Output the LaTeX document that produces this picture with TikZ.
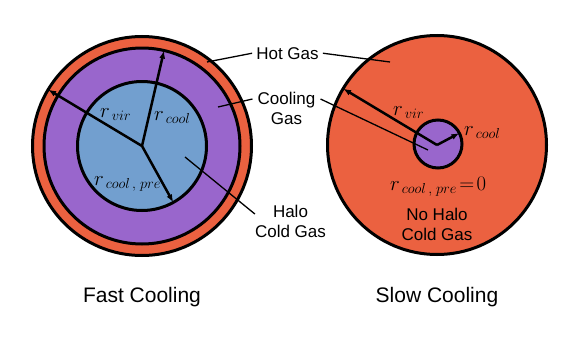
\documentclass[tikz,border=0pt]{standalone}
\usepackage{fontspec}
\setmainfont{Liberation Sans}
\usepackage{tikz}
\usetikzlibrary{arrows.meta}
\usetikzlibrary{positioning,calc}
\definecolor{hotred}{RGB}{235,97,64}
\definecolor{coolpurple}{RGB}{153,102,204}
\definecolor{coldblue}{RGB}{114,159,207}

\tikzset{
  shell/.style={circle,draw=black,line width=3pt,inner sep=0pt,outer sep=0pt},
  radius arrow/.style={line width=2.5pt,-{Latex[length=8pt,width=6pt]}},
  leader/.style={line width=1.3pt},
  gaslabel/.style={font=\fontsize{17}{19.5}\selectfont,align=center,inner sep=0pt,anchor=north},
  caption/.style={font=\fontsize{21}{25}\selectfont,inner sep=0pt,anchor=north},
  radlabel/.style={font=\fontsize{20}{24}\selectfont,inner sep=0pt,anchor=base west}
}

\begin{document}
\begin{tikzpicture}[x=1pt,y=-1pt]
    \useasboundingbox (0,0) rectangle (581,340);
    % fast cooling halo
    \coordinate (oL) at (142,146);
    \node[shell,fill=hotred,minimum size=219pt] (hotL) at (oL) {};
    \node[shell,fill=coolpurple,minimum size=196pt] (coolL) at (oL) {};
    \node[shell,fill=coldblue,minimum size=129pt] (coldL) at (oL) {};
    \draw[radius arrow] (oL) -- (hotL.149);
    \draw[radius arrow] (oL) -- (coolL.77);
    \draw[radius arrow] (oL) -- (coldL.-61);
    \node[radlabel] (rvirL) at (100,117) {$r_{\,vir}$};
    \node[radlabel] (rcoolL) at (154,120) {$r_{\,cool}$};
    \node[radlabel] (rpreL) at (94,185) {$r_{\,cool\,,\;pre}$};
    % slow cooling halo
    \coordinate (oR) at (437,145);
    \node[shell,fill=hotred,minimum size=219pt] (hotR) at (oR) {};
    \node[shell,fill=coolpurple,minimum size=48pt] (coolR) at (438,144) {};
    \draw[radius arrow] (oR) -- (hotR.149);
    \draw[radius arrow] (oR) -- (coolR.27);
    \node[radlabel] (rvirR) at (393,115) {$r_{\,vir}$};
    \node[radlabel] (rcoolR) at (464,135) {$r_{\,cool}$};
    \node[radlabel] (rpreR) at (390,190) {$r_{\,cool\,,\;pre}\!=\!0$};
    % gas labels in the middle
    \node[gaslabel] (hot) at (287.5,47) {Hot Gas};
    \node[gaslabel] (cool) at (286.5,92) {Cooling\\Gas};
    \node[gaslabel] (halo) at (290.5,205) {Halo\\Cold Gas};
    \node[gaslabel] (nohalo) at (437,208) {No Halo\\Cold Gas};
    \coordinate (hotinL) at (207,62);
    \coordinate (hotinR) at (390,62);
    \coordinate (coolinL) at (218,107);
    \coordinate (coolinR) at (428,150);
    \coordinate (coldin) at (185,157);
    \draw[leader] ([xshift=-4pt]hot.west) -- (hotinL);
    \draw[leader] ([xshift=4pt]hot.east) -- (hotinR);
    \draw[leader] ([xshift=-5pt,yshift=-7pt]cool.north west) -- (coolinL);
    \draw[leader] ([xshift=5pt,yshift=-7pt]cool.north east) -- (coolinR);
    \draw[leader] ([yshift=-9pt]halo.north west) -- (coldin);
    % captions
    \node[caption] (fast) at (142,287) {Fast Cooling};
    \node[caption] (slow) at (437,287) {Slow Cooling};
\end{tikzpicture}
\end{document}
